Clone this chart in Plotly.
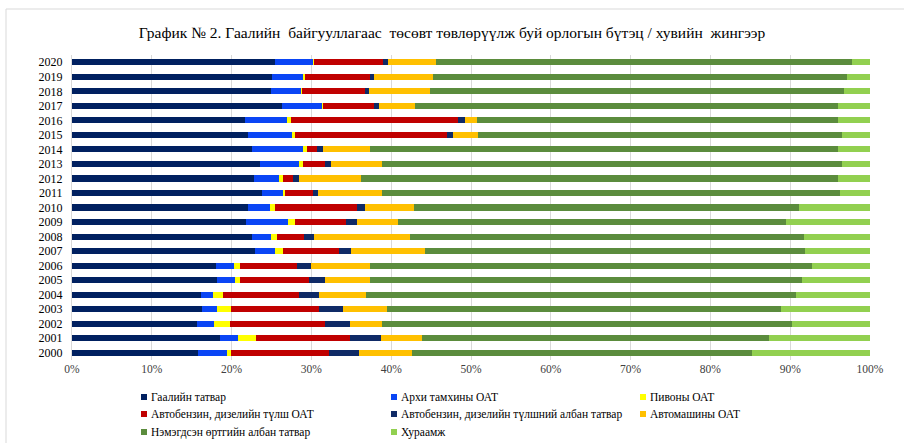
import plotly.graph_objects as go

years = [str(y) for y in range(2000, 2021)]

series_names = [
    "Гаалийн татвар",
    "Архи тамхины ОАТ",
    "Пивоны ОАТ",
    "Автобензин, дизелийн түлш ОАТ",
    "Автобензин, дизелийн түлшний албан татвар",
    "Автомашины ОАТ",
    "Нэмэгдсэн өртгийн албан татвар",
    "Хураамж",
]

# values per year, 2000 .. 2020 (percent share)
gaaliin_tatvar = [15.8, 18.6, 15.7, 16.3, 16.2, 18.2, 18.1, 22.9, 22.5, 21.75, 22.0,
                  23.8, 22.75, 23.5, 22.6, 22.1, 21.7, 26.3, 24.9, 25.0, 25.5]
arkhi_tamkhi = [3.6, 2.2, 2.1, 1.9, 1.5, 2.2, 2.2, 2.6, 2.4, 5.35, 2.8,
                2.6, 3.25, 4.9, 6.4, 5.5, 5.3, 5.1, 3.8, 4.0, 4.8]
pivo = [0.5, 2.2, 2.0, 1.7, 1.2, 0.6, 0.7, 0.9, 0.8, 0.8, 0.6,
        0.35, 0.5, 0.6, 0.4, 0.3, 0.4, 0.1, 0.1, 0.2, 0.05]
benzin_oat = [12.3, 11.8, 11.9, 11.0, 9.6, 8.7, 7.2, 7.0, 3.4, 6.4, 10.35,
              3.45, 1.25, 2.75, 1.35, 19.1, 21.0, 6.4, 7.9, 8.1, 8.65]
benzin_alban = [3.8, 3.95, 3.1, 3.1, 2.5, 2.0, 1.8, 1.6, 1.2, 1.4, 0.95,
                0.6, 0.75, 0.65, 0.75, 0.8, 0.8, 0.6, 0.5, 0.6, 0.6]
avtomashin = [6.6, 5.15, 4.1, 5.5, 5.8, 5.6, 7.3, 9.25, 12.0, 5.2, 6.1,
              8.1, 7.7, 6.5, 5.8, 3.1, 1.6, 4.5, 7.7, 7.35, 6.0]
nuat = [42.6, 43.4, 51.3, 49.4, 53.9, 54.2, 55.4, 47.55, 49.4, 48.6, 48.3,
        57.4, 59.8, 57.6, 58.7, 45.6, 45.2, 53.0, 51.8, 51.85, 52.1]
khuraamj = [14.8, 12.7, 9.8, 11.1, 9.3, 8.5, 7.3, 8.2, 8.3, 10.5, 8.9,
            3.7, 4.0, 3.5, 4.0, 3.5, 4.0, 4.0, 3.3, 2.9, 2.3]

x_ticks = [0, 10, 20, 30, 40, 50, 60, 70, 80, 90, 100]
x_tick_labels = [f"{t}%" for t in x_ticks]

series_values = [gaaliin_tatvar, arkhi_tamkhi, pivo, benzin_oat,
                 benzin_alban, avtomashin, nuat, khuraamj]
colors = ["#002060", "#0A45F5", "#FFFF00", "#C00000",
          "#0F2A66", "#FFC000", "#5B8C3D", "#92D050"]

FONT = "Liberation Serif"

W, H = 904, 443
ML, MR, MT, MB = 72, 34, 55, 83
PW, PH = W - ML - MR, H - MT - MB


def px_x(px):
    return (px - ML) / PW


def px_y(py):
    return (H - MB - py) / PH


fig = go.Figure()
for name, vals, col in zip(series_names, series_values, colors):
    fig.add_trace(go.Bar(
        y=years, x=vals, name=name, orientation="h",
        marker=dict(color=col, line=dict(width=0)),
        showlegend=False,
    ))

fig.update_layout(
    width=W, height=H,
    barmode="stack", barnorm="percent", bargap=0.58,
    paper_bgcolor="white", plot_bgcolor="white",
    margin=dict(l=ML, r=MR, t=MT, b=MB, autoexpand=False),
    font=dict(family=FONT, color="#000000", size=11),
    title=dict(
        text="График № 2. Гаалийн  байгууллагаас  төсөвт төвлөрүүлж буй орлогын бүтэц / хувийн  жингээр",
        x=0.5, xanchor="center", y=1 - 33 / H, yanchor="middle",
        font=dict(family=FONT, size=15.5, color="#000000"),
    ),
    showlegend=False,
)

fig.update_xaxes(
    range=[0, 100], tickvals=x_ticks, ticktext=x_tick_labels,
    showgrid=True, gridcolor="#D9D9D9", gridwidth=1,
    zeroline=False, showline=False, ticks="",
    tickfont=dict(family=FONT, size=11.5, color="#404040"),
)
fig.update_yaxes(
    categoryorder="array", categoryarray=years,
    tickmode="array", tickvals=years, ticktext=years,
    showline=True, linecolor="#D9D9D9", linewidth=1,
    ticks="", showgrid=False, ticklabelstandoff=6,
    tickfont=dict(family=FONT, size=12, color="#000000"),
)

# chart-area border (left/top edges visible in the reference)
fig.add_shape(type="rect", xref="paper", yref="paper",
              x0=px_x(6), x1=px_x(915), y0=px_y(460), y1=px_y(9),
              line=dict(color="#D9D9D9", width=1), fillcolor="rgba(0,0,0,0)",
              layer="below")

# manual legend in a 3-column grid (Excel-like small square markers)
col_x = [141, 391, 640]
row_y = [397, 414, 432]
for i, (name, col) in enumerate(zip(series_names, colors)):
    r, c = divmod(i, 3)
    mx, my = col_x[c], row_y[r]
    fig.add_shape(type="rect", xref="paper", yref="paper",
                  x0=px_x(mx), x1=px_x(mx + 6), y0=px_y(my + 3), y1=px_y(my - 3),
                  line=dict(width=0), fillcolor=col)
    fig.add_annotation(xref="paper", yref="paper", x=px_x(mx + 8), y=px_y(my),
                       text=name, showarrow=False, xanchor="left", yanchor="middle",
                       font=dict(family=FONT, size=11.5, color="#000000"))

fig.write_html("out.html", config={"displayModeBar": False},
               post_script="document.body.style.margin='0';")
